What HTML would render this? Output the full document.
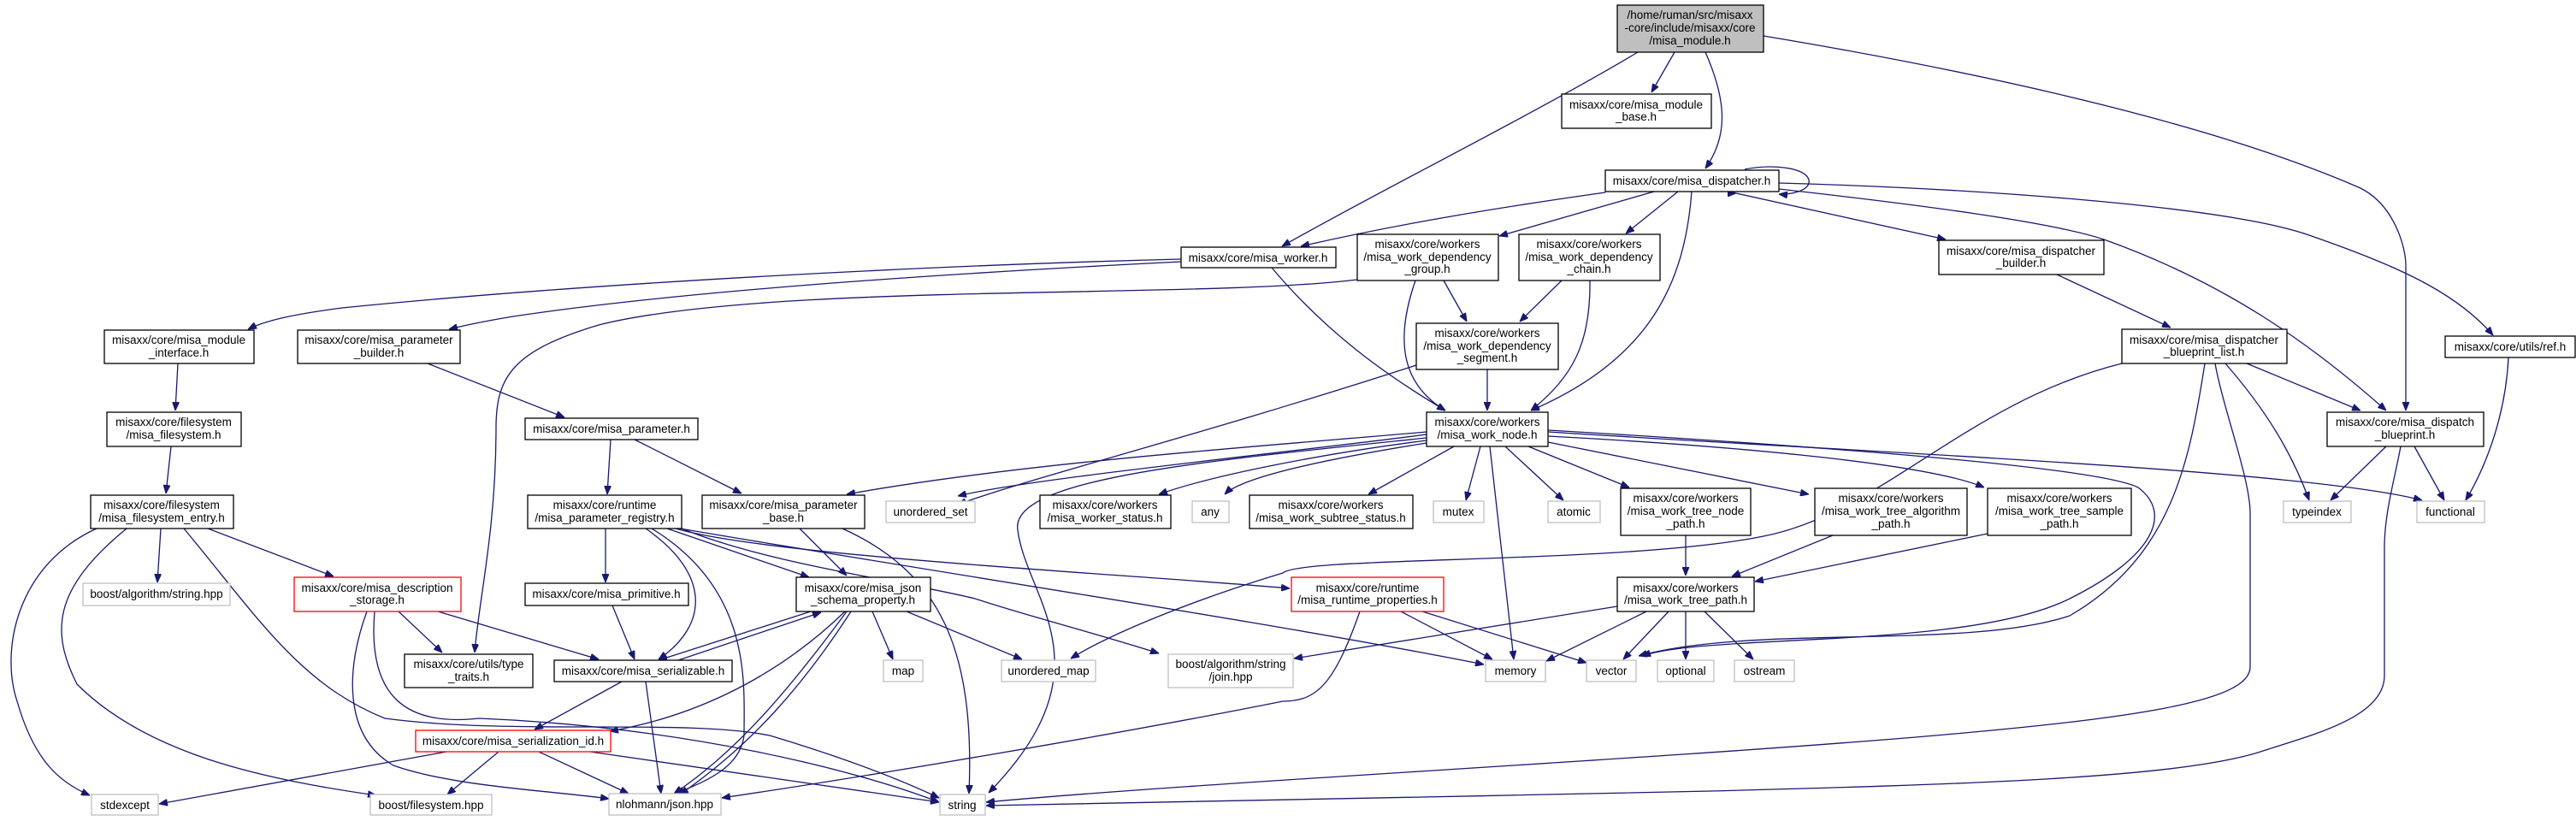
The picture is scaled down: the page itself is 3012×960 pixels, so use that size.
<!DOCTYPE html>
<html><head><meta charset="utf-8"><style>
html,body{margin:0;padding:0;background:#fff;}
svg{display:block;}
text{font-family:"Liberation Sans",Arial,sans-serif;font-size:13.5px;fill:#000;text-anchor:middle;}
.n{fill:#fff;stroke:#000;stroke-width:1.3;}
.g{fill:#fff;stroke:#bfbfbf;stroke-width:1.3;}
.r{fill:#fff;stroke:#ff0000;stroke-width:1.3;}
.m{fill:#bfbfbf;stroke:#000;stroke-width:1.3;}
path{fill:none;stroke:#191970;stroke-width:1.3;}
</style></head><body>
<svg width="3012" height="960" viewBox="0 0 3012 960" xmlns="http://www.w3.org/2000/svg">
<defs>
<marker id="a" viewBox="0 0 10 8" refX="10" refY="4" markerWidth="10" markerHeight="8" markerUnits="userSpaceOnUse" orient="auto">
<path d="M0,0 L10,4 L0,8 z" style="fill:#191970;stroke:#191970;stroke-width:1"/>
</marker>
</defs>
<g marker-end="url(#a)">
<!-- main -->
<path d="M1915,61 C1800,130 1600,230 1499,288"/>
<path d="M1958,61 L1931,108"/>
<path d="M1994,61 C2020,120 2020,160 1994,197"/>
<path d="M2062,42 C2350,90 2600,150 2760,220 C2800,240 2813,290 2813,310 L2813,480"/>
<!-- worker -->
<path d="M1381,303 C1100,310 700,330 400,360 C340,368 310,375 290,385"/>
<path d="M1381,306 C1100,320 800,340 600,370 C570,375 545,380 525,385"/>
<path d="M1487,313 C1560,400 1640,450 1690,480"/>
<!-- dispatcher -->
<path d="M1877,225 C1700,250 1600,270 1521,288"/>
<path d="M1934,224 L1753,276"/>
<path d="M1962,224 L1901,273"/>
<path d="M1978,224 C1970,330 1930,420 1790,480"/>
<path d="M2030,226 L2275,280"/>
<path d="M2028,226 L2030,226"/>
<path d="M2080,221 C2250,240 2400,260 2460,280 C2600,330 2700,400 2790,480"/>
<path d="M2080,214 C2300,220 2600,240 2700,275 C2800,310 2870,340 2915,392"/>
<path d="M2040,198 C2070,192 2110,195 2115,210 C2118,224 2090,228 2080,227"/>
<!-- builder -->
<path d="M2405,321 L2538,383"/>
<!-- blueprint_list -->
<path d="M2481,425 C2300,470 2200,600 2062,627 C1900,660 1520,650 1500,670 C1400,700 1300,740 1252,770"/>
<path d="M2578,425 C2560,540 2540,650 2420,720 C2300,760 2050,730 1916,767"/>
<path d="M2590,425 C2600,480 2631,560 2631,600 L2631,780 C2631,820 2500,840 2240,862 C1900,890 1400,915 1153,938"/>
<path d="M2602,425 C2650,480 2680,530 2700,585"/>
<path d="M2627,425 L2760,480"/>
<!-- dispatch_blueprint -->
<path d="M2790,522 L2725,585"/>
<path d="M2823,522 L2858,585"/>
<path d="M2807,522 C2800,560 2788,600 2788,640 L2788,790 C2788,840 2700,860 2640,880 C2540,910 2300,917 2000,925 C1700,932 1300,938 1153,942"/>
<!-- ref -->
<path d="M2933,418 C2930,480 2910,540 2883,585"/>
<!-- work_node -->
<path d="M1668,505 C1500,520 1200,540 990,578"/>
<path d="M1668,508 C1500,530 1200,560 1120,580"/>
<path d="M1668,512 C1400,540 1180,560 1190,620 C1200,700 1300,780 1156,927"/>
<path d="M1668,515 C1550,530 1420,555 1355,578"/>
<path d="M1668,518 C1530,540 1450,560 1432,578"/>
<path d="M1700,522 L1600,578"/>
<path d="M1731,522 L1714,585"/>
<path d="M1742,522 L1770,771"/>
<path d="M1760,522 L1828,585"/>
<path d="M1787,522 L1905,570"/>
<path d="M1810,517 L2115,578"/>
<path d="M1810,510 C2000,520 2250,540 2320,570"/>
<path d="M1810,505 C2200,530 2700,550 2832,585"/>
<path d="M1810,503 C2100,520 2450,545 2500,570 C2540,600 2520,650 2420,700 C2300,760 2000,740 1920,767"/>
<!-- dep_group -->
<path d="M1587,327 C1400,350 900,330 700,380 C600,410 580,440 580,500 C580,620 560,700 555,763"/>
<path d="M1688,328 L1715,376"/>
<path d="M1655,328 C1630,400 1640,450 1690,480"/>
<!-- dep_chain -->
<path d="M1826,328 L1777,376"/>
<path d="M1859,328 C1860,400 1840,440 1790,480"/>
<!-- dep_segment -->
<path d="M1656,427 C1400,510 1200,560 1120,590"/>
<path d="M1739,432 L1739,480"/>
<!-- left -->
<path d="M208,425 L205,480"/>
<path d="M500,425 L660,488"/>
<path d="M200,522 L194,577"/>
<path d="M113,618 C20,660 0,760 20,820 C40,890 70,915 105,930"/>
<path d="M148,618 C60,690 60,740 90,800 C170,880 300,910 440,930"/>
<path d="M188,618 L184,681"/>
<path d="M215,618 C300,720 350,800 450,840 C600,860 800,840 900,860 C1000,890 1060,915 1098,933"/>
<path d="M243,618 L390,674"/>
<!-- description_storage -->
<path d="M466,715 L517,763"/>
<path d="M512,715 L700,771"/>
<path d="M429,715 C405,780 400,860 460,895 C530,920 650,925 712,934"/>
<path d="M438,715 C430,810 470,850 560,840 C800,850 1000,900 1098,938"/>
<!-- parameter -->
<path d="M714,514 L710,578"/>
<path d="M742,514 L867,577"/>
<!-- registry -->
<path d="M708,618 L708,681"/>
<path d="M755,618 C830,670 830,730 770,771"/>
<path d="M762,618 C880,690 870,800 870,860 C865,900 820,915 790,928"/>
<path d="M780,618 L946,675"/>
<path d="M790,618 C900,650 1300,670 1508,688"/>
<path d="M795,618 C1100,670 1500,730 1735,777"/>
<path d="M797,618 C900,660 1060,680 1140,700 C1200,720 1280,740 1355,764"/>
<!-- primitive -->
<path d="M716,708 L742,771"/>
<!-- parameter_base -->
<path d="M935,618 L990,673"/>
<path d="M985,618 C1100,670 1140,760 1133,928"/>
<!-- json_schema -->
<path d="M948,715 L770,772"/>
<path d="M1020,715 L1044,771"/>
<path d="M1060,715 L1195,771"/>
<path d="M990,715 C920,810 860,880 788,928"/>
<path d="M995,715 C940,800 880,870 795,929"/>
<path d="M988,715 C900,800 800,840 713,855"/>
<!-- serializable -->
<path d="M727,797 L625,853"/>
<path d="M755,797 L773,928"/>
<path d="M793,772 L960,716"/>
<!-- serialization_id -->
<path d="M522,879 L186,940"/>
<path d="M583,879 L523,929"/>
<path d="M630,879 L735,928"/>
<path d="M690,879 L1098,938"/>
<!-- runtime props -->
<path d="M1638,715 L1745,771"/>
<path d="M1663,715 L1855,775"/>
<path d="M1590,715 C1560,800 1540,820 1500,820 C1300,860 1000,910 844,933"/>
<!-- work_tree_path -->
<path d="M1891,709 L1513,770"/>
<path d="M1925,715 L1808,773"/>
<path d="M1951,715 L1898,771"/>
<path d="M1971,715 L1971,771"/>
<path d="M1993,715 L2050,771"/>
<path d="M1971,626 L1971,673"/>
<path d="M2143,626 L2025,674"/>
<path d="M2324,624 L2052,680"/>
</g>
<!-- nodes -->
<rect class="m" x="1891" y="6" width="171" height="55"/>
<text x="1976" y="22">/home/ruman/src/misaxx</text><text x="1976" y="37">-core/include/misaxx/core</text><text x="1976" y="52">/misa_module.h</text>
<rect class="n" x="1826" y="110" width="175" height="40"/>
<text x="1913" y="127">misaxx/core/misa_module</text><text x="1913" y="141">_base.h</text>
<rect class="n" x="1877" y="199" width="203" height="25"/>
<text x="1978" y="216">misaxx/core/misa_dispatcher.h</text>
<rect class="n" x="1381" y="289" width="181" height="24"/>
<text x="1471" y="306">misaxx/core/misa_worker.h</text>
<rect class="n" x="1587" y="274" width="165" height="54"/>
<text x="1669" y="290">misaxx/core/workers</text><text x="1669" y="305">/misa_work_dependency</text><text x="1669" y="319">_group.h</text>
<rect class="n" x="1776" y="274" width="165" height="54"/>
<text x="1858" y="290">misaxx/core/workers</text><text x="1858" y="305">/misa_work_dependency</text><text x="1858" y="319">_chain.h</text>
<rect class="n" x="1656" y="378" width="166" height="54"/>
<text x="1739" y="394">misaxx/core/workers</text><text x="1739" y="409">/misa_work_dependency</text><text x="1739" y="423">_segment.h</text>
<rect class="n" x="2267" y="281" width="193" height="40"/>
<text x="2363" y="298">misaxx/core/misa_dispatcher</text><text x="2363" y="312">_builder.h</text>
<rect class="n" x="2481" y="385" width="193" height="40"/>
<text x="2577" y="402">misaxx/core/misa_dispatcher</text><text x="2577" y="416">_blueprint_list.h</text>
<rect class="n" x="2859" y="393" width="152" height="25"/>
<text x="2935" y="410">misaxx/core/utils/ref.h</text>
<rect class="n" x="122" y="386" width="175" height="39"/>
<text x="209" y="402">misaxx/core/misa_module</text><text x="209" y="417">_interface.h</text>
<rect class="n" x="348" y="386" width="190" height="39"/>
<text x="443" y="402">misaxx/core/misa_parameter</text><text x="443" y="417">_builder.h</text>
<rect class="n" x="125" y="482" width="157" height="40"/>
<text x="203" y="498">misaxx/core/filesystem</text><text x="203" y="513">/misa_filesystem.h</text>
<rect class="n" x="106" y="579" width="167" height="39"/>
<text x="189" y="595">misaxx/core/filesystem</text><text x="189" y="610">/misa_filesystem_entry.h</text>
<rect class="g" x="97" y="682" width="172" height="26"/>
<text x="183" y="699">boost/algorithm/string.hpp</text>
<rect class="r" x="344" y="675" width="195" height="40"/>
<text x="441" y="692">misaxx/core/misa_description</text><text x="441" y="706">_storage.h</text>
<rect class="n" x="473" y="765" width="150" height="39"/>
<text x="548" y="781">misaxx/core/utils/type</text><text x="548" y="796">_traits.h</text>
<rect class="n" x="648" y="772" width="208" height="25"/>
<text x="752" y="789">misaxx/core/misa_serializable.h</text>
<rect class="r" x="486" y="854" width="228" height="25"/>
<text x="600" y="871">misaxx/core/misa_serialization_id.h</text>
<rect class="g" x="107" y="929" width="78" height="24"/>
<text x="146" y="946">stdexcept</text>
<rect class="g" x="433" y="929" width="142" height="24"/>
<text x="504" y="946">boost/filesystem.hpp</text>
<rect class="g" x="712" y="928" width="131" height="25"/>
<text x="777" y="945">nlohmann/json.hpp</text>
<rect class="n" x="614" y="489" width="202" height="25"/>
<text x="715" y="506">misaxx/core/misa_parameter.h</text>
<rect class="n" x="617" y="579" width="180" height="39"/>
<text x="707" y="595">misaxx/core/runtime</text><text x="707" y="610">/misa_parameter_registry.h</text>
<rect class="n" x="614" y="682" width="191" height="26"/>
<text x="709" y="699">misaxx/core/misa_primitive.h</text>
<rect class="n" x="821" y="579" width="190" height="39"/>
<text x="916" y="595">misaxx/core/misa_parameter</text><text x="916" y="610">_base.h</text>
<rect class="g" x="1036" y="586" width="104" height="25"/>
<text x="1088" y="603">unordered_set</text>
<rect class="n" x="1216" y="579" width="153" height="39"/>
<text x="1292" y="595">misaxx/core/workers</text><text x="1292" y="610">/misa_worker_status.h</text>
<rect class="g" x="1394" y="586" width="43" height="25"/>
<text x="1415" y="603">any</text>
<rect class="n" x="1461" y="579" width="191" height="39"/>
<text x="1556" y="595">misaxx/core/workers</text><text x="1556" y="610">/misa_work_subtree_status.h</text>
<rect class="n" x="931" y="675" width="157" height="40"/>
<text x="1009" y="692">misaxx/core/misa_json</text><text x="1009" y="706">_schema_property.h</text>
<rect class="g" x="1033" y="772" width="46" height="25"/>
<text x="1056" y="789">map</text>
<rect class="g" x="1171" y="772" width="110" height="25"/>
<text x="1226" y="789">unordered_map</text>
<rect class="g" x="1366" y="765" width="146" height="39"/>
<text x="1439" y="781">boost/algorithm/string</text><text x="1439" y="796">/join.hpp</text>
<rect class="g" x="1099" y="929" width="53" height="24"/>
<text x="1125" y="946">string</text>
<rect class="n" x="1668" y="482" width="142" height="40"/>
<text x="1739" y="498">misaxx/core/workers</text><text x="1739" y="513">/misa_work_node.h</text>
<rect class="g" x="1676" y="586" width="59" height="25"/>
<text x="1705" y="603">mutex</text>
<rect class="g" x="1810" y="586" width="61" height="25"/>
<text x="1840" y="603">atomic</text>
<rect class="n" x="1895" y="571" width="152" height="55"/>
<text x="1971" y="587">misaxx/core/workers</text><text x="1971" y="602">/misa_work_tree_node</text><text x="1971" y="617">_path.h</text>
<rect class="n" x="2122" y="571" width="178" height="55"/>
<text x="2211" y="587">misaxx/core/workers</text><text x="2211" y="602">/misa_work_tree_algorithm</text><text x="2211" y="617">_path.h</text>
<rect class="n" x="2324" y="571" width="168" height="55"/>
<text x="2408" y="587">misaxx/core/workers</text><text x="2408" y="602">/misa_work_tree_sample</text><text x="2408" y="617">_path.h</text>
<rect class="r" x="1510" y="675" width="178" height="40"/>
<text x="1599" y="692">misaxx/core/runtime</text><text x="1599" y="706">/misa_runtime_properties.h</text>
<rect class="n" x="1891" y="675" width="160" height="40"/>
<text x="1971" y="692">misaxx/core/workers</text><text x="1971" y="706">/misa_work_tree_path.h</text>
<rect class="g" x="1737" y="772" width="70" height="25"/>
<text x="1772" y="789">memory</text>
<rect class="g" x="1855" y="772" width="58" height="25"/>
<text x="1884" y="789">vector</text>
<rect class="g" x="1938" y="772" width="66" height="25"/>
<text x="1971" y="789">optional</text>
<rect class="g" x="2028" y="772" width="70" height="25"/>
<text x="2063" y="789">ostream</text>
<rect class="n" x="2721" y="482" width="183" height="40"/>
<text x="2812" y="498">misaxx/core/misa_dispatch</text><text x="2812" y="513">_blueprint.h</text>
<rect class="g" x="2670" y="586" width="79" height="25"/>
<text x="2709" y="603">typeindex</text>
<rect class="g" x="2826" y="586" width="79" height="25"/>
<text x="2865" y="603">functional</text>
</svg>
</body></html>
